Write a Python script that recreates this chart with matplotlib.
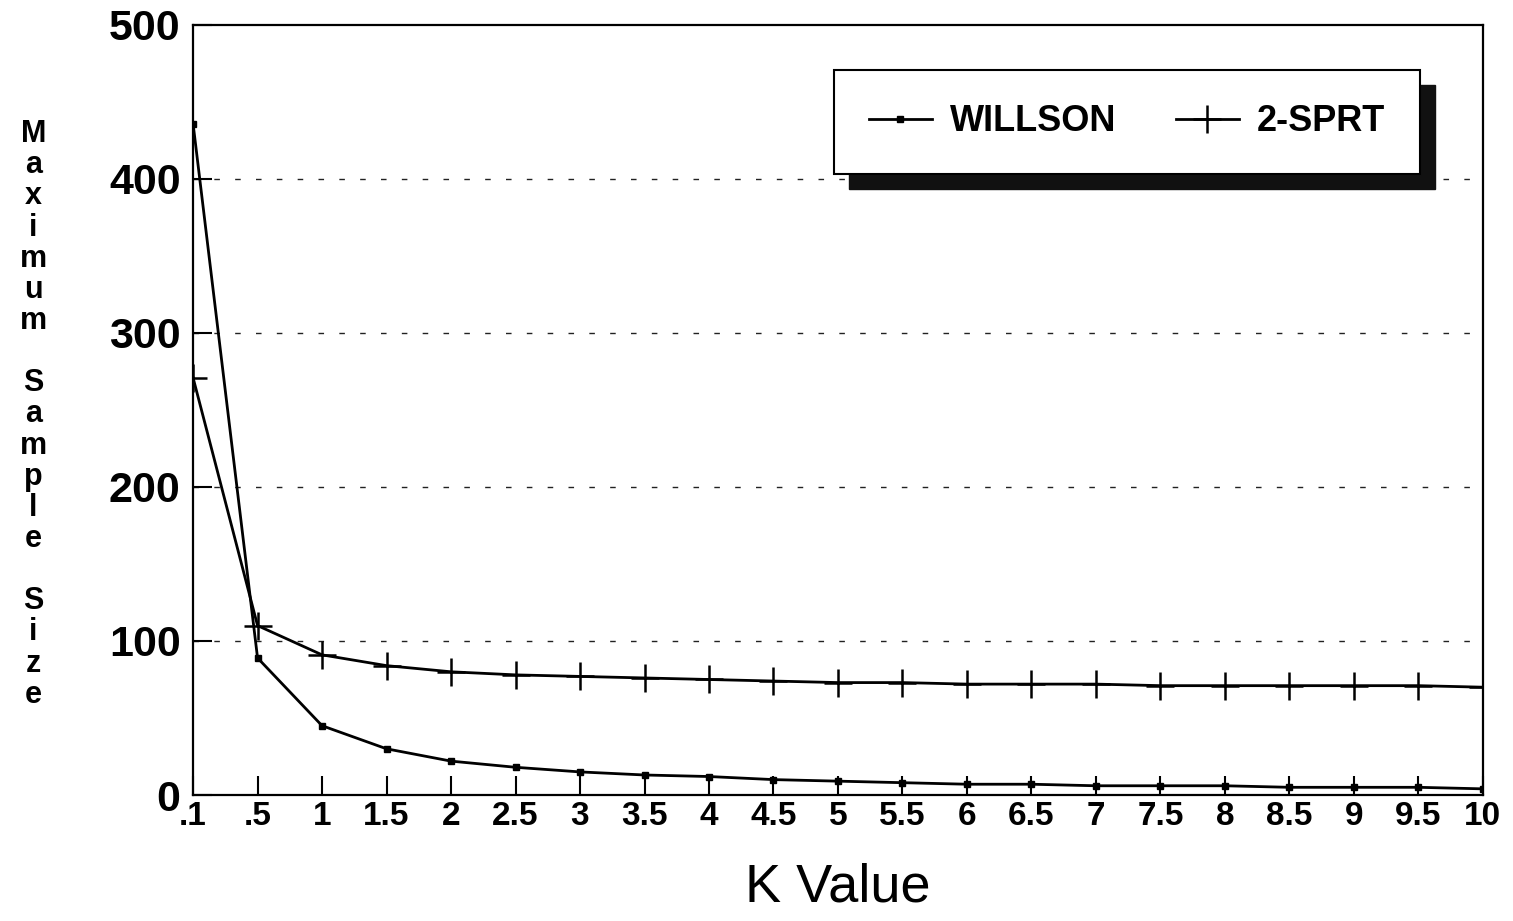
import matplotlib
matplotlib.use('Agg')
import matplotlib.pyplot as plt
import numpy as np
from matplotlib.patches import Rectangle

# データ
k_labels = ['.1', '.5', '1', '1.5', '2', '2.5', '3', '3.5', '4', '4.5', '5',
            '5.5', '6', '6.5', '7', '7.5', '8', '8.5', '9', '9.5', '10']
willson = [436, 89, 45, 30, 22, 18, 15, 13, 12, 10, 9,
           8, 7, 7, 6, 6, 6, 5, 5, 5, 4]
sprt2 = [271, 110, 91, 84, 80, 78, 77, 76, 75, 74, 73,
         73, 72, 72, 72, 71, 71, 71, 71, 71, 70]
y_ticks = [0, 100, 200, 300, 400, 500]

plt.rcParams['font.family'] = ['Liberation Sans', 'DejaVu Sans']

fig = plt.figure(figsize=(15.13, 9.21), dpi=100)
ax = fig.add_axes([0.1276, 0.1368, 0.8525, 0.8361])

x = np.arange(len(k_labels))
ax.plot(x, willson, color='black', lw=2, marker='s', ms=5, label='WILLSON', zorder=3)
ax.plot(x, sprt2, color='black', lw=2, marker='+', ms=20, mew=1.8, label='2-SPRT', zorder=3)

ax.set_xlim(0, len(k_labels) - 1)
ax.set_ylim(0, 500)
ax.set_xticks(x)
ax.set_xticklabels(k_labels, fontsize=24, fontweight='bold')
ax.set_yticks(y_ticks)
ax.set_yticklabels([str(v) for v in y_ticks], fontsize=31, fontweight='bold')
ax.tick_params(axis='both', direction='in', length=14, width=1.5)
ax.tick_params(axis='x', pad=4)
ax.tick_params(axis='y', pad=9)

# グリッド（点線）
for v in y_ticks[1:-1]:
    ax.axhline(v, color='#222222', lw=1.0, linestyle=(0, (4, 11)), zorder=0)

for s in ax.spines.values():
    s.set_linewidth(1.6)

ax.set_xlabel('K Value', fontsize=39, labelpad=22)

# 縦書きの軸ラベル
fig.text(0.022, 0.55, 'M\na\nx\ni\nm\nu\nm\n\nS\na\nm\np\nl\ne\n\nS\ni\nz\ne',
         ha='center', va='center', fontsize=22, fontweight='bold', linespacing=1.05)

# 凡例（影付き）
leg = ax.legend(loc='upper right', bbox_to_anchor=(0.951, 0.9416), ncol=2,
                frameon=True, fancybox=False, shadow=False,
                handlelength=1.75, handletextpad=0.5, columnspacing=1.65,
                borderpad=0.95, borderaxespad=0,
                prop={'weight': 'bold', 'size': 26})
leg.get_frame().set_edgecolor('black')
leg.get_frame().set_linewidth(1.5)
leg.get_frame().set_alpha(1)
leg.set_zorder(6)

fig.canvas.draw()
bb = leg.get_window_extent().transformed(ax.transAxes.inverted())
dx = 15 / (ax.bbox.width)
dy = 15 / (ax.bbox.height)
shadow = Rectangle((bb.x0 + dx, bb.y0 - dy), bb.width, bb.height,
                   transform=ax.transAxes, color='#111111', zorder=5, clip_on=False)
ax.add_patch(shadow)

plt.savefig('out.png', dpi=100)
